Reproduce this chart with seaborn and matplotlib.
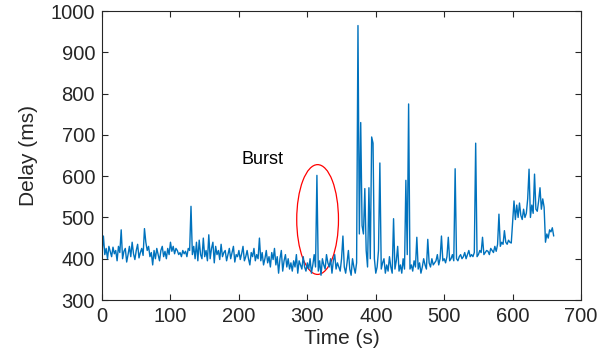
import numpy as np
import pandas as pd
import matplotlib
matplotlib.use("Agg")
import matplotlib.pyplot as plt
from matplotlib.patches import Ellipse
import seaborn as sns

# Delay samples, one every 2 s
time_s = np.arange(0, 662, 2)
delay_ms = [
    415, 455, 410, 425, 400, 430, 418, 405, 428, 412,
    420, 395, 430, 415, 470, 400, 418, 425, 392, 410,
    430, 405, 440, 412, 398, 420, 435, 402, 415, 425,
    408, 473, 440, 420, 430, 405, 415, 385, 420, 400,
    425, 410, 395, 420, 430, 405, 418, 400, 425, 410,
    440, 418, 430, 412, 425, 420, 410, 415, 405, 420,
    412, 418, 405, 425, 420, 527, 410, 430, 400, 440,
    395, 445, 410, 400, 450, 405, 420, 395, 458, 400,
    425, 440, 390, 430, 410, 420, 398, 435, 405, 415,
    420, 395, 410, 425, 400, 415, 430, 392, 410, 405,
    420, 398, 412, 430, 395, 405, 420, 400, 385, 415,
    405, 425, 395, 410, 400, 450, 395, 415, 385, 400,
    420, 390, 405, 380, 415, 398, 425, 385, 405, 365,
    400, 420, 370, 395, 410, 380, 400, 375, 390, 370,
    395, 380, 410, 365, 395, 385, 375, 405, 380, 370,
    390, 375, 400, 365, 385, 410, 380, 602, 370, 395,
    360, 400, 385, 375, 410, 390, 380, 400, 365, 395,
    410, 375, 390, 380, 370, 400, 455, 380, 365, 390,
    420, 375, 360, 400, 380, 365, 390, 965, 460, 730,
    480, 460, 570, 420, 380, 572, 400, 695, 680, 400,
    365, 380, 420, 632, 375, 390, 400, 365, 385, 370,
    405, 380, 365, 497, 375, 395, 430, 370, 385, 365,
    400, 375, 590, 410, 775, 375, 385, 370, 395, 380,
    452, 375, 390, 365, 380, 400, 385, 375, 447, 390,
    380, 400, 385, 390, 395, 410, 385, 400, 455, 395,
    400, 390, 405, 452, 395, 400, 410, 395, 618, 400,
    395, 405, 410, 400, 405, 415, 400, 410, 420, 405,
    410, 405, 415, 680, 405, 410, 420, 415, 452, 410,
    415, 420, 418, 410, 425, 420, 415, 430, 418, 435,
    508, 430, 440, 435, 468, 440, 435, 445, 440, 438,
    490, 540, 495, 530, 500, 535, 505, 495, 520, 500,
    510, 545, 617, 500, 530, 510, 605, 520, 515, 540,
    572, 520, 545, 525, 440, 460, 450, 470, 465, 475,
    455,
]

df = pd.DataFrame({"Time": time_s, "Delay": delay_ms})

sns.set_style("ticks")
plt.rcParams["font.family"] = ["Liberation Sans", "DejaVu Sans"]

fig = plt.figure(figsize=(6.11, 3.58), dpi=100)
ax = fig.add_axes([0.167, 0.162, 0.784, 0.807])

sns.lineplot(data=df, x="Time", y="Delay", color="#0072BD", linewidth=1.0, ax=ax)

# Burst annotation
ax.add_patch(Ellipse((315, 495), 61, 266, fill=False, edgecolor="red", linewidth=0.9))
ax.text(204, 640, "Burst", fontsize=13, va="center", ha="left", color="black")

ax.set_xlim(0, 700)
ax.set_ylim(300, 1000)
ax.set_xticks(range(0, 701, 100))
ax.set_yticks(range(300, 1001, 100))
ax.set_xlabel("Time (s)", fontsize=15, color="#262626", labelpad=2)
ax.set_ylabel("Delay (ms)", fontsize=15, color="#262626", labelpad=9)
ax.tick_params(direction="in", length=4, width=0.8, top=True, right=True,
               labelsize=14.5, colors="#262626", pad=5)
for s in ax.spines.values():
    s.set_visible(True)
    s.set_color("#262626")
    s.set_linewidth(0.8)

fig.savefig("out.png", dpi=100)
